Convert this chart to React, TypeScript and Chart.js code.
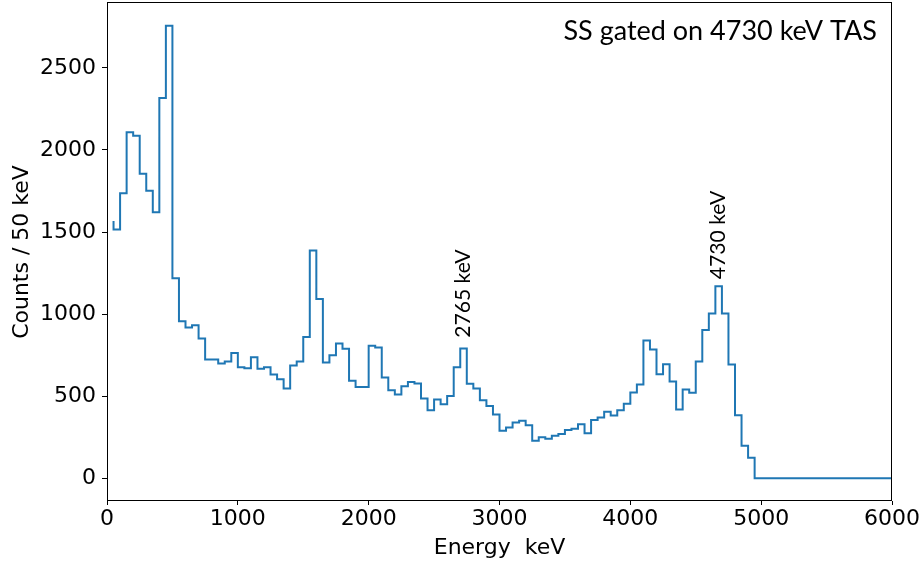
import React, { useEffect, useRef } from "react";
import { Chart, registerables } from "chart.js";

Chart.register(...registerables);

// Histogram bin upper edges (keV); first entry is the start point of the step line
const binWidth = 50;
const firstEdge = 50;

// Counts per 50 keV bin. First value is the start point at 50 keV,
// then each value covers (edge - 50, edge].
const counts: number[] = [
  1567,
  // 100 - 500
  1515, 1737, 2108, 2086, 1855, 1752, 1620, 2317, 2757,
  // 550 - 1000
  1218, 957, 918, 932, 851, 724, 724, 699, 711, 764,
  // 1050 - 1500
  677, 671, 738, 667, 677, 632, 604, 547, 687, 711,
  // 1550 - 2000
  861, 1387, 1093, 705, 750, 821, 789, 594, 557, 557,
  // 2050 - 2500
  807, 797, 614, 537, 511, 561, 586, 578, 487, 414,
  // 2550 - 3000
  480, 452, 501, 677, 791, 576, 547, 476, 440, 389,
  // 3050 - 3500
  290, 310, 340, 350, 324, 229, 251, 241, 259, 270,
  // 3550 - 4000
  294, 302, 330, 274, 355, 371, 405, 383, 415, 454,
  // 4050 - 4500
  523, 572, 839, 785, 634, 695, 590, 420, 541, 521,
  // 4550 - 4950
  712, 904, 1004, 1170, 1004, 693, 385, 198, 125,
  // 5000 - 6000
  0, 0, 0, 0, 0, 0, 0, 0, 0, 0, 0, 0, 0, 0, 0, 0, 0, 0, 0, 0, 0,
];

const energies: number[] = counts.map((_, i) => firstEdge + i * binWidth);

const xTicks = [0, 1000, 2000, 3000, 4000, 5000, 6000];
const yTicks = [0, 500, 1000, 1500, 2000, 2500];

const peakLabels = ["2765 keV", "4730 keV"];
const peakLabelEnergy = [2720, 4668];
const peakLabelCount = [856, 1213];

const titleText = "SS gated on 4730 keV TAS";
const xTitle = "Energy  keV";
const yTitle = "Counts / 50 keV";

const tickFont = { family: "'DejaVu Sans'", size: 22 };

const annotationPlugin = {
  id: "annotations",
  afterDraw(chart: any) {
    const { ctx, chartArea, scales } = chart;
    const xs = scales.x;
    const ys = scales.y;
    ctx.save();
    // frame
    ctx.strokeStyle = "#000";
    ctx.lineWidth = 1;
    ctx.strokeRect(
      Math.round(chartArea.left) + 0.5,
      Math.round(chartArea.top) - 0.5,
      Math.round(chartArea.right) - Math.round(chartArea.left) - 1,
      Math.round(chartArea.bottom) - Math.round(chartArea.top) + 0
    );
    // peak labels
    ctx.fillStyle = "#000";
    peakLabels.forEach((t, i) => {
      const px = xs.getPixelForValue(peakLabelEnergy[i]);
      const py = ys.getPixelForValue(peakLabelCount[i]);
      ctx.save();
      ctx.translate(px, py);
      ctx.rotate(-Math.PI / 2);
      ctx.scale(0.96, 1);
      ctx.font = "22px Lato";
      ctx.textAlign = "left";
      ctx.textBaseline = "middle";
      ctx.fillText(t, 0, 0);
      ctx.restore();
    });
    // title
    ctx.save();
    ctx.translate(chartArea.right - 15, chartArea.top + 37);
    ctx.font = "27px Lato";
    ctx.textAlign = "right";
    ctx.textBaseline = "alphabetic";
    ctx.fillText(titleText, 0, 0);
    ctx.restore();
    ctx.restore();
  },
};

export default function App() {
  const ref = useRef<HTMLCanvasElement | null>(null);
  useEffect(() => {
    if (!ref.current) return;
    const chart = new Chart(ref.current, {
      type: "line",
      data: {
        datasets: [
          {
            data: energies.map((e, i) => ({ x: e, y: counts[i] })),
            borderColor: "#1f77b4",
            borderWidth: 2,
            pointRadius: 0,
            stepped: "after",
            fill: false,
            tension: 0,
          },
        ],
      },
      options: {
        animation: false,
        responsive: false,
        devicePixelRatio: 1,
        layout: { padding: { top: 3, right: 31, left: 0, bottom: 0 } },
        plugins: { legend: { display: false }, tooltip: { enabled: false } },
        scales: {
          x: {
            type: "linear",
            min: 0,
            max: 6000,
            border: { display: false },
            grid: {
              drawOnChartArea: false,
              drawTicks: true,
              tickLength: 4,
              color: "#000",
            },
            afterBuildTicks: (s: any) => {
              s.ticks = xTicks.map((v) => ({ value: v }));
            },
            ticks: {
              font: tickFont,
              color: "#000",
              padding: 1,
              maxRotation: 0,
              autoSkip: false,
              callback: (v: any) => String(v),
            },
            title: {
              display: true,
              text: xTitle,
              font: tickFont,
              color: "#000",
              padding: { top: 0, bottom: 1 },
            },
            afterFit: (s: any) => {
              s.height = 61;
              s.paddingLeft = 0;
              s.paddingRight = 0;
            },
          },
          y: {
            type: "linear",
            min: -138,
            max: 2895,
            border: { display: false },
            grid: {
              drawOnChartArea: false,
              drawTicks: true,
              tickLength: 5,
              color: "#000",
            },
            afterBuildTicks: (s: any) => {
              s.ticks = yTicks.map((v) => ({ value: v }));
            },
            ticks: {
              font: tickFont,
              color: "#000",
              padding: 6,
              autoSkip: false,
              callback: (v: any) => String(v),
            },
            title: {
              display: true,
              text: yTitle,
              font: tickFont,
              color: "#000",
              padding: { top: 9, bottom: 0 },
            },
            afterFit: (s: any) => {
              s.width = 107;
              s.paddingTop = 0;
              s.paddingBottom = 0;
            },
          },
        },
      },
      plugins: [annotationPlugin],
    });
    return () => chart.destroy();
  }, []);
  return (
    <div style={{ position: "absolute", left: 0, top: 0, width: 923, height: 562, background: "#fff" }}>
      <canvas ref={ref} width={923} height={562} style={{ display: "block" }} />
    </div>
  );
}
